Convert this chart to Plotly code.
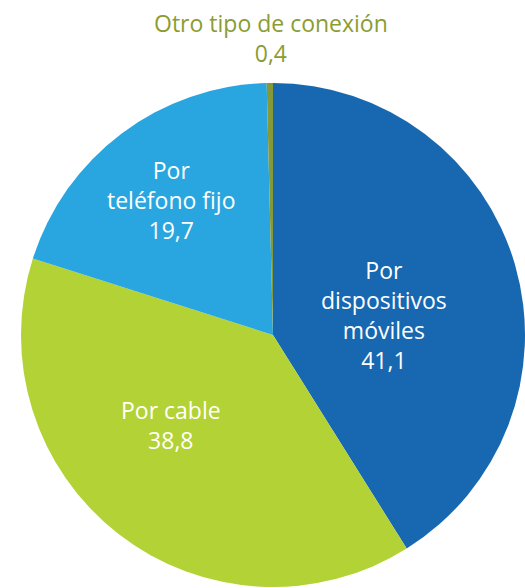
import plotly.graph_objects as go

# Internet access by connection type (%)
categories = ["Por dispositivos móviles", "Por cable", "Por teléfono fijo", "Otro tipo de conexión"]
shares = [41.1, 38.8, 19.7, 0.4]
label_lines = [["Por", "dispositivos", "móviles"], ["Por cable"], ["Por", "teléfono fijo"], ["Otro tipo de conexión"]]
colors = ["#1768b0", "#b3d235", "#29a6df", "#85993a"]

W, H = 525, 588
FONT = "Open Sans"


def fmt(v):
    return f"{v:.1f}".replace(".", ",")


fig = go.Figure(
    go.Pie(
        labels=categories,
        values=shares,
        sort=False,
        direction="clockwise",
        rotation=0,
        marker=dict(colors=colors, line=dict(width=0)),
        textinfo="none",
        hoverinfo="label+value",
        showlegend=False,
        domain=dict(x=[0.04, 1.0], y=[0.0017, 0.859]),
    )
)

# label anchor points (pixel centres) for each slice's caption
label_pos = [(384, 315), (171, 425), (171, 200), (271, 38)]
label_colors = ["white", "white", "white", "#8b9c33"]

for lines, val, (px, py), c in zip(label_lines, shares, label_pos, label_colors):
    fig.add_annotation(
        x=px / W,
        y=1 - py / H,
        xref="paper",
        yref="paper",
        xanchor="center",
        yanchor="middle",
        text="<br>".join(lines + [fmt(val)]),
        showarrow=False,
        font=dict(family=FONT, size=23, color=c, weight=400),
        align="center",
    )

fig.update_layout(
    width=W,
    height=H,
    margin=dict(l=0, r=0, t=0, b=0),
    paper_bgcolor="white",
    plot_bgcolor="white",
    font=dict(family=FONT),
)

fig.write_html("out.html")
